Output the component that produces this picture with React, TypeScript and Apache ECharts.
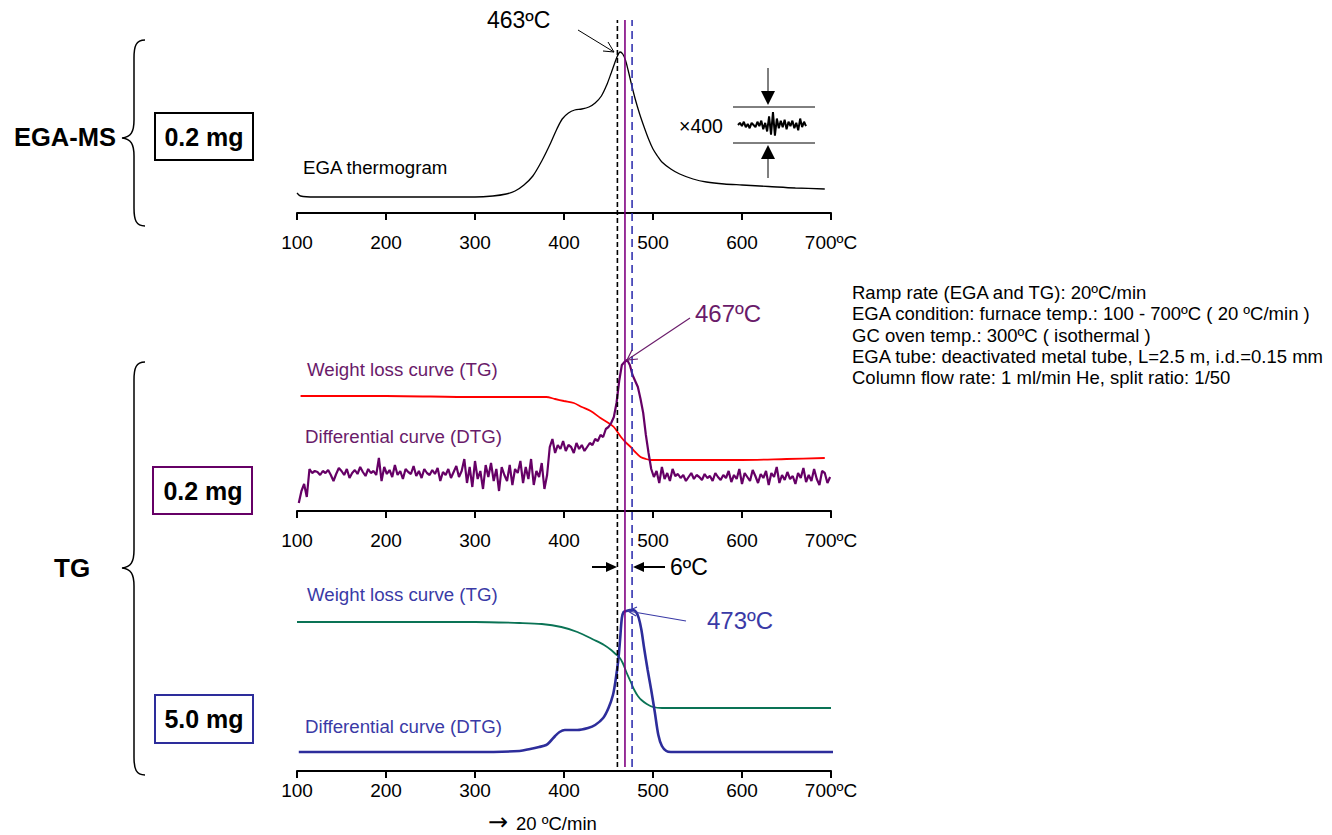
import React, { useEffect, useRef } from "react";
import * as echarts from "echarts";

const FONT = "'Liberation Sans', Arial, sans-serif";

// Axis tick labels (°C)
const tickLabels = ["100", "200", "300", "400", "500", "600", "700ºC"];

// EGA thermogram (top)
const egaTemps = [100, 104, 120, 200, 300, 320, 335, 345, 355, 365, 375, 385, 392, 398, 405, 412, 420, 428, 435, 442, 448, 453, 457, 460, 463, 466, 469, 472, 476, 480, 485, 490, 495, 500, 505, 510, 520, 530, 545, 560, 580, 600, 630, 660, 693];
const egaValues = [20, 17, 16, 16, 16, 17, 19, 22, 28, 37, 52, 70, 84, 94, 100, 103, 104, 106, 110, 117, 128, 140, 150, 157, 161, 159, 153, 143, 128, 114, 99, 86, 74, 64, 57, 51, 44, 39, 34, 31, 29, 28, 26.5, 25, 24];

// ×400 inset trace
const insetValues = [0, 2, -1, 3, -2, 1, -3, 2, 0, -2, 3, -1, 4, -4, 2, -6, 8, -9, 12, -10, 6, -3, 4, -2, 5, -4, 3, -1, 4, -3, 2, -5, 6, -2, 3, -1];

// Middle: 0.2 mg TG (red)
const tgMidTemps = [104, 200, 300, 380, 390, 400, 411, 420, 430, 441, 450, 456, 464, 470, 475, 480, 486, 492, 498, 520, 600, 650, 693];
const tgMidValues = [115, 115, 114, 114, 112, 110, 108, 104, 100, 93, 88, 84, 74, 68, 64, 59, 54, 52, 51, 51, 51, 52, 53];

// Middle: 0.2 mg DTG (purple), sampled every 3 °C from 102 °C
const dtgMidStart = 102;
const dtgMidStep = 3;
const dtgMidValues = [
  8, 20, 27, 14, 42, 38, 40, 39, 36, 40, 38, 41, 36, 30, 37, 43, 40, 36, 42, 33,
  38, 41, 37, 44, 39, 35, 42, 38, 40, 36, 53, 30, 44, 37, 41, 34, 46, 36, 40, 32,
  42, 39, 37, 45, 35, 40, 33, 42, 38, 36, 41, 37, 43, 30, 39, 36, 42, 33, 39, 45,
  34, 40, 52, 28, 44, 24, 50, 32, 40, 22, 46, 34, 48, 30, 42, 20, 44, 36, 30, 46,
  26, 42, 38, 50, 28, 44, 32, 52, 26, 40, 34, 48, 22, 36,
  64, 72, 58, 66, 62, 70, 60, 66, 64, 58, 68, 62, 66, 60, 64, 68, 66, 72, 70, 76,
  74, 82, 84, 88, 94, 108, 130, 146, 149, 151, 146, 136, 130, 124, 112, 98, 76, 58, 42,
  34, 40, 28, 44, 32, 38, 30, 42, 35, 37, 33, 36, 30, 34, 38, 32, 36, 34, 31, 37,
  33, 35, 30, 38, 34, 31, 36, 33, 40, 29, 36, 32, 42, 27, 38, 34, 30, 41, 35, 28,
  37, 33, 40, 26, 38, 34, 44, 28, 36, 31, 39, 32, 35, 27, 38, 33, 43, 29, 36, 30,
  42, 32, 26, 40, 38, 28, 34
];

// Bottom: 5.0 mg TG (green)
const tgLowTemps = [100, 300, 350, 375, 397, 415, 434, 445, 453, 458, 462, 466, 470, 475, 479, 483, 487, 493, 500, 510, 700];
const tgLowValues = [149, 149, 148, 147, 144, 139, 131, 126, 121, 117, 114, 108, 99, 89, 81, 75, 71, 67, 64, 63, 63];

// Bottom: 5.0 mg DTG (blue)
const dtgLowTemps = [102, 200, 300, 350, 362, 372, 380, 384, 390, 395, 401, 415, 427, 435, 444, 450, 455, 458, 461, 463, 465, 467, 470, 474, 478, 481, 484, 487, 490, 494, 498, 502, 506, 510, 515, 520, 600, 705];
const dtgLowValues = [19, 19, 19, 20, 22, 24, 26, 29, 35, 39, 41, 41, 43, 46, 53, 63, 76, 91, 111, 131, 153, 159, 160, 161, 161, 159, 153, 141, 123, 101, 81, 59, 36, 25, 20, 19, 19, 19];

// Peak marker positions (°C): EGA, TG 0.2 mg, TG 5.0 mg
const markerTemps = [460, 468.5, 476.5];

const BRACE_TOP =
  "M145,40 C136,40 134,46 134,58 L134,120 C134,132 131,137 122,138 C131,139 134,144 134,156 L134,208 C134,220 136,226 145,226";
const BRACE_LOW =
  "M145,362 C136,362 134,368 134,380 L134,550 C134,562 131,567 122,568 C131,569 134,574 134,586 L134,757 C134,769 136,775 145,775";

let shapesRegistered = false;
function registerShapes() {
  if (shapesRegistered) return;
  echarts.graphic.registerShape("braceTop", echarts.graphic.extendPath(BRACE_TOP, {}));
  echarts.graphic.registerShape("braceLow", echarts.graphic.extendPath(BRACE_LOW, {}));
  shapesRegistered = true;
}

const PURPLE = "#660066";
const PURPLE_TXT = "#6a1b6a";
const BLUE = "#2d2d9b";
const BLUE_TXT = "#3a3aa6";
const GREEN = "#0a7355";
const RED = "#ff0000";

function pairs(t: number[], v: number[]) {
  return t.map((x, i) => [x, v[i]]);
}

function txt(x: number, y: number, text: string, size: number, opts: any = {}) {
  return {
    type: "text",
    x,
    y,
    z: 100,
    style: {
      text,
      fontSize: size,
      fontFamily: opts.font || FONT,
      fontWeight: opts.bold ? "bold" : "normal",
      fill: opts.fill || "#000",
      align: opts.align || "left",
      verticalAlign: "middle",
    },
  };
}
function ln(x1: number, y1: number, x2: number, y2: number, color = "#000", w = 1) {
  return { type: "line", z: 100, shape: { x1, y1, x2, y2 }, style: { stroke: color, lineWidth: w } };
}
function pl(points: number[][], color = "#000", w = 1) {
  return { type: "polyline", z: 100, shape: { points }, style: { stroke: color, lineWidth: w, fill: "none" } };
}
function tri(points: number[][], color = "#000") {
  return { type: "polygon", z: 100, shape: { points }, style: { fill: color } };
}
function box(x: number, y: number, w: number, h: number, color: string) {
  return { type: "rect", z: 100, shape: { x, y, width: w, height: h }, style: { fill: "none", stroke: color, lineWidth: 2 } };
}

export default function App() {
  const ref = useRef<HTMLDivElement>(null);
  useEffect(() => {
    if (!ref.current) return;
    registerShapes();
    const chart = echarts.init(ref.current, null, { renderer: "svg" });

    const left = 297;
    const width = 534;
    const mainXAxis = (gi: number, margin: number) => ({
      gridIndex: gi,
      type: "value",
      min: 100,
      max: 700,
      interval: 100,
      axisLine: { show: true, onZero: false, lineStyle: { color: "#000", width: 2 } },
      axisTick: { show: true, inside: false, length: 7, lineStyle: { color: "#000", width: 2 } },
      axisLabel: {
        show: true,
        showMinLabel: true,
        showMaxLabel: true,
        formatter: (v: number) => tickLabels[Math.round((v - 100) / 100)] ?? "",
        fontSize: 19,
        color: "#000",
        fontFamily: FONT,
        margin,
      },
      splitLine: { show: false },
    });
    const hiddenY = (gi: number, min: number, max: number) => ({ gridIndex: gi, type: "value", min, max, show: false });

    const dtgMidData = dtgMidValues.map((v, i) => [dtgMidStart + i * dtgMidStep, v]);

    const option: any = {
      animation: false,
      grid: [
        { left, width, top: 13, height: 200 },
        { left, width, top: 311, height: 200 },
        { left, width, top: 571, height: 200 },
        { left, width, top: 20, height: 747 },
        { left: 738, width: 68, top: 110, height: 30 },
      ],
      xAxis: [
        mainXAxis(0, 20),
        mainXAxis(1, 20),
        mainXAxis(2, 10),
        { gridIndex: 3, type: "value", min: 100, max: 700, show: false },
        { gridIndex: 4, type: "category", boundaryGap: false, data: insetValues.map((_, i) => String(i)), show: false },
      ],
      yAxis: [hiddenY(0, 0, 200), hiddenY(1, 0, 200), hiddenY(2, 0, 200), hiddenY(3, 0, 1), hiddenY(4, -14, 14)],
      series: [
        {
          type: "line", xAxisIndex: 0, yAxisIndex: 0, data: pairs(egaTemps, egaValues),
          showSymbol: false, smooth: 0.3,
          lineStyle: { color: "#000", width: 1.3 }, z: 3,
        },
        {
          type: "line", xAxisIndex: 4, yAxisIndex: 4, data: insetValues,
          showSymbol: false, lineStyle: { color: "#000", width: 2 },
        },
        {
          type: "line", xAxisIndex: 1, yAxisIndex: 1, data: pairs(tgMidTemps, tgMidValues),
          showSymbol: false, smooth: 0.3,
          lineStyle: { color: RED, width: 1.8 }, z: 3,
        },
        {
          type: "line", xAxisIndex: 1, yAxisIndex: 1, data: dtgMidData,
          showSymbol: false, lineStyle: { color: PURPLE, width: 2.2 }, z: 4,
        },
        {
          type: "line", xAxisIndex: 2, yAxisIndex: 2, data: pairs(tgLowTemps, tgLowValues),
          showSymbol: false, smooth: 0.3,
          lineStyle: { color: GREEN, width: 1.8 }, z: 3,
        },
        {
          type: "line", xAxisIndex: 2, yAxisIndex: 2, data: pairs(dtgLowTemps, dtgLowValues),
          showSymbol: false, smooth: 0.3, clip: false,
          lineStyle: { color: BLUE, width: 2.6 }, z: 4,
        },
        {
          type: "line", xAxisIndex: 3, yAxisIndex: 3, data: [[markerTemps[0], 0], [markerTemps[0], 1]],
          showSymbol: false, lineStyle: { color: "#000", width: 1.6, type: [5, 3] }, z: 6,
        },
        {
          type: "line", xAxisIndex: 3, yAxisIndex: 3, data: [[markerTemps[1], 0], [markerTemps[1], 1]],
          showSymbol: false, lineStyle: { color: "#800080", width: 1.6 }, z: 6,
        },
        {
          type: "line", xAxisIndex: 3, yAxisIndex: 3, data: [[markerTemps[2], 0], [markerTemps[2], 1]],
          showSymbol: false, lineStyle: { color: "#3333b0", width: 1.6, type: [8, 5] }, z: 6,
        },
      ],
      graphic: {
        elements: [
          // top panel
          txt(487, 20, "463ºC", 23),
          ln(578, 30, 614, 52),
          pl([[603, 51], [614, 52], [608, 42]]),
          txt(303, 167, "EGA thermogram", 18.7),
          txt(679, 126, "×400", 19.5),
          ln(733, 107, 815, 107),
          ln(733, 143, 815, 143),
          ln(768, 68, 768, 92),
          tri([[761, 91], [775, 91], [768, 105]]),
          ln(768, 178, 768, 158),
          tri([[761, 159], [775, 159], [768, 145]]),
          { type: "braceTop", x: 0, y: 0, z: 100, style: { stroke: "#000", lineWidth: 1.5, fill: "none" } },
          txt(14, 137, "EGA-MS", 25.5, { bold: true }),
          box(155, 113, 98, 47, "#000"),
          txt(204, 137, "0.2 mg", 25, { bold: true, align: "center" }),
          // middle panel
          txt(695, 313, "467ºC", 24, { fill: PURPLE_TXT }),
          ln(690, 318, 627, 360, PURPLE_TXT, 1.2),
          pl([[632, 350], [627, 360], [638, 359]], PURPLE_TXT, 1.2),
          txt(307, 369, "Weight loss curve (TG)", 18.7, { fill: PURPLE_TXT }),
          txt(305, 436, "Differential curve (DTG)", 18.7, { fill: PURPLE_TXT }),
          box(153, 467, 99, 47, PURPLE),
          txt(203, 491, "0.2 mg", 25, { bold: true, align: "center" }),
          // TG label and brace
          { type: "braceLow", x: 0, y: 0, z: 100, style: { stroke: "#000", lineWidth: 1.5, fill: "none" } },
          txt(54, 568, "TG", 26, { bold: true }),
          // 6ºC
          ln(592, 567, 608, 567, "#000", 2),
          tri([[606, 562], [617, 567], [606, 572]]),
          ln(665, 567, 643, 567, "#000", 2),
          tri([[644, 562], [633, 567], [644, 572]]),
          txt(670, 567, "6ºC", 23),
          // bottom panel
          txt(307, 594, "Weight loss curve (TG)", 18.7, { fill: BLUE_TXT }),
          txt(707, 620, "473ºC", 24, { fill: BLUE_TXT }),
          ln(686, 621, 628, 611, BLUE_TXT, 1.2),
          pl([[637, 607], [628, 611], [636, 616]], BLUE_TXT, 1.2),
          txt(305, 726, "Differential curve (DTG)", 18.7, { fill: BLUE_TXT }),
          box(155, 695, 98, 48, BLUE),
          txt(204, 719, "5.0 mg", 25, { bold: true, align: "center" }),
          txt(488, 822, "→", 24, { font: "'DejaVu Sans', sans-serif" }),
          txt(516, 823, "20 ºC/min", 18.5),
          // conditions
          txt(852, 292, "Ramp rate (EGA and TG): 20ºC/min", 18.5),
          txt(852, 313, "EGA condition: furnace temp.: 100 - 700ºC ( 20 ºC/min )", 18.5),
          txt(852, 335, "GC oven temp.: 300ºC ( isothermal )", 18.5),
          txt(852, 356, "EGA tube: deactivated metal tube, L=2.5 m, i.d.=0.15 mm", 18.5),
          txt(852, 377, "Column flow rate: 1 ml/min He, split ratio: 1/50", 18.5),
        ],
      },
    };
    chart.setOption(option);
    return () => chart.dispose();
  }, []);
  return (
    <div
      ref={ref}
      style={{ position: "fixed", left: 0, top: 0, width: 1332, height: 835, background: "#fff" }}
    />
  );
}
